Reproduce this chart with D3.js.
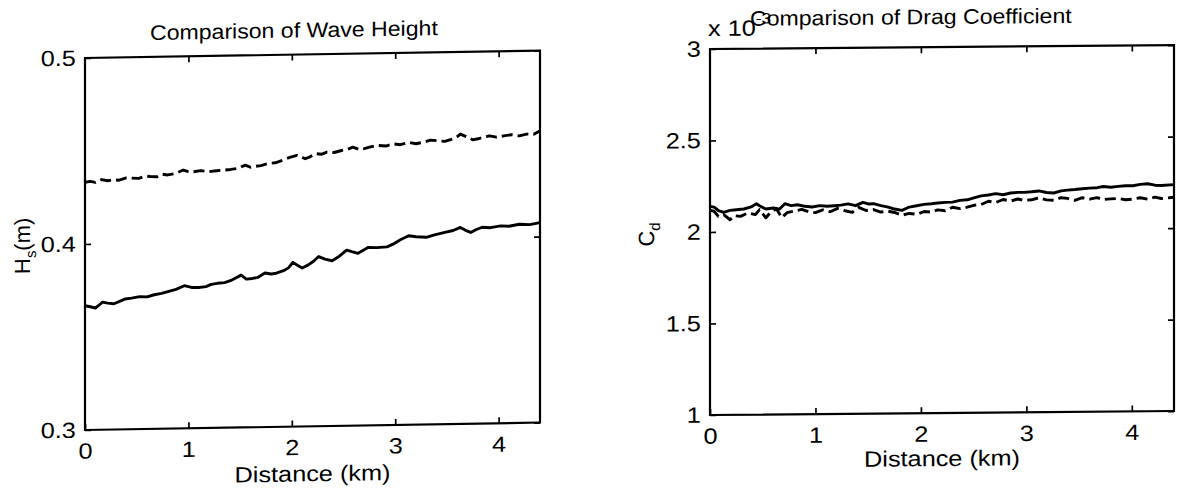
<!DOCTYPE html>
<html><head><meta charset="utf-8">
<script src="https://cdn.jsdelivr.net/npm/d3@7"></script>
<style>
body{margin:0;background:#fff}
svg text{font-family:"Liberation Sans",Arial,Helvetica,sans-serif;fill:#000}
</style>
</head><body>
<svg id="c" width="1177" height="497"></svg>
<script>
// ---- data ----
const distanceDomain = [0, 4.4];
const distanceTicks = [0, 1, 2, 3, 4];
const waveTicks = [0.3, 0.4, 0.5];
const dragTicks = [1, 1.5, 2, 2.5, 3];
const dragExponent = "-3";

// Wave height, solid series
const waveSolidKm = [0.00,0.05,0.10,0.14,0.17,0.22,0.28,0.34,0.39,0.45,0.53,0.60,0.67,0.74,0.81,0.88,0.96,1.03,1.10,1.17,1.22,1.28,1.35,1.42,1.51,1.56,1.62,1.67,1.74,1.80,1.85,1.92,1.97,2.01,2.05,2.10,2.16,2.21,2.26,2.32,2.39,2.46,2.53,2.58,2.64,2.70,2.74,2.82,2.92,2.99,3.05,3.13,3.20,3.30,3.38,3.48,3.56,3.63,3.68,3.73,3.78,3.84,3.92,4.02,4.10,4.20,4.30,4.40];
const waveSolidHs = [0.3668,0.3662,0.3655,0.3672,0.3686,0.3680,0.3676,0.3690,0.3701,0.3705,0.3712,0.3710,0.3721,0.3728,0.3738,0.3748,0.3767,0.3757,0.3756,0.3760,0.3772,0.3777,0.3780,0.3793,0.3819,0.3797,0.3800,0.3805,0.3828,0.3822,0.3826,0.3839,0.3855,0.3883,0.3868,0.3852,0.3868,0.3887,0.3912,0.3898,0.3888,0.3912,0.3944,0.3935,0.3926,0.3945,0.3957,0.3955,0.3958,0.3975,0.3995,0.4016,0.4010,0.4006,0.4018,0.4031,0.4040,0.4056,0.4040,0.4028,0.4042,0.4055,0.4052,0.4061,0.4058,0.4068,0.4065,0.4075];

// Wave height, dashed series
const waveDashKm = [0.00,0.05,0.10,0.16,0.22,0.27,0.33,0.40,0.45,0.52,0.58,0.63,0.70,0.75,0.80,0.88,0.95,1.00,1.05,1.12,1.20,1.27,1.34,1.41,1.48,1.55,1.60,1.63,1.70,1.77,1.84,1.91,1.98,2.05,2.13,2.18,2.23,2.29,2.34,2.41,2.48,2.54,2.59,2.65,2.70,2.77,2.84,2.91,2.98,3.05,3.13,3.20,3.27,3.34,3.41,3.48,3.55,3.60,3.63,3.67,3.70,3.75,3.80,3.86,3.91,3.98,4.05,4.12,4.20,4.27,4.34,4.37,4.40];
const waveDashHs = [0.4332,0.4336,0.4330,0.4345,0.4338,0.4343,0.4340,0.4352,0.4350,0.4348,0.4360,0.4357,0.4355,0.4368,0.4364,0.4372,0.4389,0.4380,0.4379,0.4384,0.4378,0.4382,0.4385,0.4388,0.4393,0.4410,0.4398,0.4401,0.4406,0.4417,0.4420,0.4433,0.4448,0.4458,0.4439,0.4450,0.4465,0.4462,0.4473,0.4470,0.4480,0.4486,0.4497,0.4484,0.4488,0.4498,0.4504,0.4500,0.4511,0.4506,0.4518,0.4510,0.4517,0.4528,0.4524,0.4520,0.4532,0.4545,0.4558,0.4548,0.4540,0.4526,0.4531,0.4540,0.4546,0.4538,0.4544,0.4550,0.4543,0.4552,0.4550,0.4560,0.4568];

// Drag coefficient (x 10^-3), solid series
const dragSolidKm = [0.00,0.04,0.08,0.13,0.19,0.25,0.32,0.39,0.44,0.47,0.53,0.60,0.66,0.71,0.77,0.83,0.90,0.97,1.04,1.11,1.18,1.24,1.31,1.38,1.45,1.50,1.55,1.62,1.69,1.75,1.82,1.89,1.96,2.03,2.10,2.16,2.23,2.30,2.37,2.44,2.51,2.57,2.64,2.71,2.78,2.85,2.92,2.98,3.05,3.12,3.19,3.26,3.33,3.39,3.46,3.53,3.60,3.67,3.73,3.80,3.87,3.94,4.01,4.08,4.15,4.22,4.28,4.40];
const dragSolidCd = [2.140,2.136,2.117,2.107,2.117,2.120,2.124,2.135,2.152,2.141,2.123,2.128,2.122,2.151,2.140,2.145,2.136,2.132,2.139,2.135,2.138,2.141,2.147,2.137,2.155,2.146,2.147,2.136,2.128,2.117,2.109,2.127,2.134,2.141,2.144,2.148,2.151,2.152,2.161,2.164,2.175,2.185,2.189,2.196,2.190,2.199,2.202,2.202,2.205,2.209,2.200,2.197,2.208,2.212,2.215,2.219,2.222,2.224,2.230,2.226,2.230,2.233,2.233,2.240,2.243,2.235,2.233,2.237];

// Drag coefficient (x 10^-3), dashed series
const dragDashKm = [0.00,0.04,0.08,0.13,0.19,0.23,0.29,0.36,0.43,0.47,0.53,0.57,0.63,0.68,0.73,0.80,0.87,0.94,1.00,1.07,1.14,1.21,1.28,1.35,1.41,1.48,1.55,1.62,1.69,1.75,1.82,1.89,1.96,2.03,2.10,2.16,2.23,2.30,2.37,2.44,2.51,2.57,2.64,2.71,2.78,2.85,2.92,2.98,3.05,3.12,3.19,3.26,3.33,3.39,3.46,3.53,3.60,3.67,3.73,3.80,3.87,3.94,4.01,4.08,4.15,4.22,4.28,4.40];
const dragDashCd = [2.120,2.112,2.085,2.094,2.066,2.088,2.084,2.102,2.093,2.120,2.075,2.102,2.124,2.075,2.102,2.110,2.119,2.105,2.101,2.115,2.105,2.123,2.110,2.101,2.128,2.110,2.115,2.101,2.105,2.098,2.083,2.092,2.087,2.102,2.098,2.110,2.105,2.124,2.116,2.124,2.134,2.137,2.155,2.148,2.164,2.155,2.166,2.158,2.161,2.172,2.160,2.157,2.171,2.167,2.156,2.170,2.162,2.170,2.159,2.162,2.164,2.157,2.160,2.167,2.159,2.170,2.162,2.168];

// ---- drawing ----
const svg = d3.select("#c");
const FONT = 22, SX = 1.15, TITLE_FONT = 21, TITLE_SX = 1.1;

function panel(o) {
  const g = svg.append("g")
    .attr("transform", `translate(${o.left},${o.top}) skewY(${o.skew})`);
  const x = d3.scaleLinear().domain(distanceDomain).range([0, o.w]);
  const y = d3.scaleLinear().domain(o.yDomain).range([o.h, 0]);

  const style = sel => {
    sel.select(".domain").remove();
    sel.attr("font-family", null).attr("font-size", null);
    sel.selectAll(".tick line").attr("stroke", "#000").attr("stroke-width", 1.7);
    sel.selectAll(".tick text").attr("font-size", FONT).attr("fill", "#000")
      .attr("transform", `scale(${SX},1)`);
  };

  g.append("g").attr("transform", `translate(0,${o.h})`)
    .call(d3.axisBottom(x).tickValues(distanceTicks).tickFormat(d3.format("d"))
      .tickSize(-6).tickSizeOuter(0).tickPadding(13)).call(style);
  g.append("g")
    .call(d3.axisTop(x).tickValues(distanceTicks.slice(1)).tickFormat("")
      .tickSize(-6).tickSizeOuter(0)).call(style);
  g.append("g")
    .call(d3.axisLeft(y).tickValues(o.yTicks).tickFormat(o.yFormat)
      .tickSize(-6).tickSizeOuter(0).tickPadding(8)).call(style);
  g.append("g").attr("transform", `translate(${o.w},0)`)
    .call(d3.axisRight(y).tickValues(o.yTicks).tickFormat("")
      .tickSize(-6).tickSizeOuter(0)).call(style);

  g.append("rect").attr("x", 0).attr("y", 0).attr("width", o.w).attr("height", o.h)
    .attr("fill", "none").attr("stroke", "#000").attr("stroke-width", 2.2);

  const line = d3.line().x(d => x(d[0])).y(d => y(d[1]));
  g.append("path").datum(d3.zip(o.dashKm, o.dashV)).attr("d", line)
    .attr("fill", "none").attr("stroke", "#000").attr("stroke-width", 2.9)
    .attr("stroke-dasharray", "11,5").attr("stroke-linejoin", "round");
  g.append("path").datum(d3.zip(o.solidKm, o.solidV)).attr("d", line)
    .attr("fill", "none").attr("stroke", "#000").attr("stroke-width", 2.9)
    .attr("stroke-linejoin", "round");

  // title
  g.append("text").attr("text-anchor", "start").attr("font-size", TITLE_FONT)
    .attr("transform", `translate(${o.titleX},${o.titleY}) scale(${TITLE_SX},1)`)
    .text(o.title);
  // x label
  g.append("text").attr("text-anchor", "middle").attr("font-size", FONT)
    .attr("transform", `translate(${o.w / 2},${o.h + o.xLabelDy}) scale(${SX},1)`)
    .text("Distance (km)");
  // y label
  const yl = g.append("text").attr("text-anchor", "middle").attr("font-size", FONT)
    .attr("transform", `translate(${o.yLabelX},${o.yLabelY}) rotate(-90)`);
  yl.append("tspan").text(o.yLabelMain);
  yl.append("tspan").attr("font-size", 15).attr("dy", 6).text(o.yLabelSub);
  if (o.yLabelUnit) yl.append("tspan").attr("dy", -6).text(o.yLabelUnit);
  return g;
}

panel({
  left: 85, top: 58, w: 455, h: 372, skew: -0.94,
  yDomain: [0.3, 0.5], yTicks: waveTicks, yFormat: d3.format(".1f"),
  solidKm: waveSolidKm, solidV: waveSolidHs, dashKm: waveDashKm, dashV: waveDashHs,
  title: "Comparison of Wave Height", titleX: 65, titleY: -17,
  xLabelDy: 55, yLabelX: -55, yLabelY: 187,
  yLabelMain: "H", yLabelSub: "s", yLabelUnit: "(m)"
});

const gR = panel({
  left: 710, top: 49, w: 464, h: 366, skew: -0.49,
  yDomain: [1, 3], yTicks: dragTicks, yFormat: d => String(d),
  solidKm: dragSolidKm, solidV: dragSolidCd, dashKm: dragDashKm, dashV: dragDashCd,
  title: "Comparison of Drag Coefficient", titleX: 40, titleY: -23,
  xLabelDy: 53, yLabelX: -56, yLabelY: 185,
  yLabelMain: "C", yLabelSub: "d", yLabelUnit: ""
});
// multiplier label
const mult = gR.append("text").attr("font-size", FONT)
  .attr("transform", `translate(-2,-13) scale(${SX},1)`);
mult.append("tspan").text("x 10");
mult.append("tspan").attr("font-size", 15).attr("dy", -12).text(dragExponent);
</script>
</body></html>
